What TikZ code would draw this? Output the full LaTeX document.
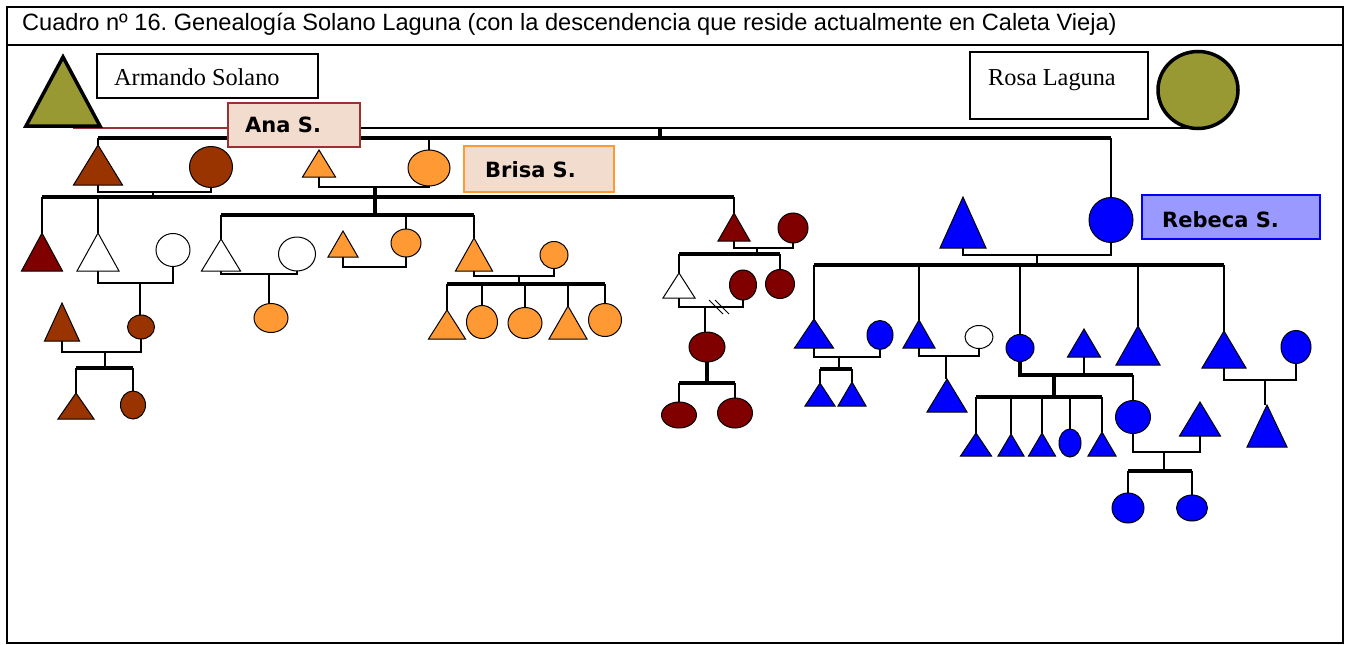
\documentclass[tikz,border=0pt]{standalone}
\usepackage{fontspec}
\setmainfont{Liberation Sans}
\newfontfamily\serifname{Liberation Serif}
\newfontfamily\rotulofam{DejaVu Sans}
\newcommand\titulofont{\fontsize{23.6}{27}\selectfont}
\newcommand\nombrefont{\serifname\fontsize{24.3}{28}\selectfont}
\newcommand\rotulofont{\rotulofam\bfseries\fontsize{21}{24}\selectfont}
\usetikzlibrary{shapes.geometric,backgrounds}
\frenchspacing

\definecolor{oliva}{HTML}{999933}
\definecolor{cafe}{HTML}{993300}
\definecolor{granate}{HTML}{800000}
\definecolor{naranja}{HTML}{FF9933}
\definecolor{azul}{HTML}{0000FF}
\definecolor{rosado}{HTML}{F2DCCD}
\definecolor{lila}{HTML}{9999FF}
\definecolor{rojizo}{HTML}{993333}

\tikzset{
  sz/.style 2 args={minimum width=#1pt,minimum height=#2pt},
  varon/.style={isosceles triangle,isosceles triangle stretches,shape border rotate=90,
    draw=black,line width=1pt,inner sep=0pt,outer sep=0pt,anchor=south,fill=#1},
  mujer/.style={ellipse,draw=black,line width=1pt,inner sep=0pt,outer sep=0pt,fill=#1},
  pareja/.style={line width=1.8pt},
  hijos/.style={line width=3.2pt},
  caja/.style={draw=black,line width=1.5pt,inner sep=0pt,anchor=north west},
  etiqueta/.style={caja,fill=rosado},
  nombre/.style={anchor=base west,inner sep=0pt,font=\nombrefont},
  rotulo/.style={anchor=base west,inner sep=0pt,font=\rotulofont},
}

\begin{document}
\begin{tikzpicture}[x=1pt,y=-1pt,line cap=rect,line join=miter]
  \useasboundingbox (0,0) rectangle (1347,645);
  % marco y titulo
  \draw[line width=1.5pt] (7,7) rectangle (1343,643);
  \draw[line width=2.5pt] (7,45) -- (1343,45);
  \node[anchor=base west,inner sep=0pt,font=\titulofont] (titulo) at (22,30)
    {Cuadro nº 16. Genealogía Solano Laguna (con la descendencia que reside actualmente en Caleta Vieja)};

  % fundadores
  \node[varon=oliva,line width=3.5pt,sz={74}{69}] (armando) at (63,126) {};
  \node[mujer=oliva,line width=3.5pt,sz={80}{77}] (rosa) at (1198,90) {};
  \node[caja,sz={221}{44}] (cajaArmando) at (96,53) {};
  \node[nombre] (txtArmando) at (114,85) {Armando Solano};
  \node[caja,sz={178}{67}] (cajaRosa) at (969,51) {};
  \node[nombre] (txtRosa) at (988,85) {Rosa Laguna};

  % hijos de Armando y Rosa
  \node[varon=cafe,sz={49}{40}] (hijo) at (98,185) {};
  \node[mujer=cafe,sz={43}{41}] (nuera) at (211,167) {};
  \node[varon=naranja,sz={33}{27}] (yernoB) at (319,177) {};
  \node[mujer=naranja,sz={42}{36}] (brisa) at (429,168) {};
  \node[varon=azul,sz={46}{51}] (yernoR) at (963,248) {};
  \node[mujer=azul,sz={44}{45}] (rebeca) at (1111,220) {};

  % rama cafe / granate
  \node[varon=granate,sz={41}{38}] (a1) at (42,271) {};
  \node[varon=white,sz={42}{38}] (a2) at (98,271) {};
  \node[mujer=white,sz={34}{33}] (a2w) at (173,250) {};
  \node[mujer=cafe,sz={27}{24}] (a2c) at (141,327) {};
  \node[varon=cafe,sz={35}{38}] (a2e) at (62,341) {};
  \node[varon=cafe,sz={36}{26}] (a2n1) at (76,419) {};
  \node[mujer=cafe,sz={25}{28}] (a2n2) at (133,405) {};
  \node[varon=granate,sz={32}{28}] (a3) at (734,241) {};
  \node[mujer=granate,sz={30}{30}] (a3w) at (793,228) {};
  \node[varon=white,sz={32}{25}] (a3h1) at (679,298) {};
  \node[mujer=granate,sz={27}{30}] (a3ex) at (743,285) {};
  \node[mujer=granate,sz={29}{29}] (a3h2) at (780,284) {};
  \node[mujer=granate,sz={36}{30}] (a3n) at (707,347) {};
  \node[mujer=granate,sz={35}{26}] (a3b1) at (679,415) {};
  \node[mujer=granate,sz={35}{30}] (a3b2) at (735,413) {};

  % rama naranja
  \node[varon=white,sz={39}{32}] (b1) at (221,271) {};
  \node[mujer=white,sz={37}{34}] (b1w) at (297,254) {};
  \node[mujer=naranja,sz={34}{29}] (b1c) at (271,318) {};
  \node[varon=naranja,sz={30}{26}] (b2e) at (343,257) {};
  \node[mujer=naranja,sz={30}{28}] (b2) at (406,243) {};
  \node[varon=naranja,sz={37}{33}] (b3) at (474,271) {};
  \node[mujer=naranja,sz={28}{27}] (b3w) at (554,255) {};
  \node[varon=naranja,sz={37}{29}] (b3n1) at (447,339) {};
  \node[mujer=naranja,sz={31}{33}] (b3n2) at (482,322) {};
  \node[mujer=naranja,sz={34}{31}] (b3n3) at (525,323) {};
  \node[varon=naranja,sz={38}{33}] (b3n4) at (568,339) {};
  \node[mujer=naranja,sz={33}{33}] (b3n5) at (605,320) {};

  % rama azul
  \node[varon=azul,sz={39}{29}] (r1) at (814,348) {};
  \node[mujer=azul,sz={26}{29}] (r1w) at (880,335) {};
  \node[varon=azul,sz={30}{23}] (r1n1) at (820,406) {};
  \node[varon=azul,sz={28}{24}] (r1n2) at (852,406) {};
  \node[varon=azul,sz={32}{28}] (r2) at (919,348) {};
  \node[mujer=white,sz={28}{23}] (r2w) at (979,337) {};
  \node[varon=azul,sz={40}{33}] (r2n) at (947,412) {};
  \node[mujer=azul,sz={28}{27}] (r3) at (1020,348) {};
  \node[varon=azul,sz={33}{28}] (r3e) at (1084,357) {};
  \node[varon=azul,sz={31}{23}] (r3n1) at (976,456) {};
  \node[varon=azul,sz={26}{22}] (r3n2) at (1011,456) {};
  \node[varon=azul,sz={27}{23}] (r3n3) at (1042,456) {};
  \node[mujer=azul,sz={22}{28}] (r3n4) at (1070,443) {};
  \node[varon=azul,sz={28}{24}] (r3n5) at (1102,456) {};
  \node[mujer=azul,sz={35}{33}] (r3x) at (1133,417) {};
  \node[varon=azul,sz={41}{34}] (r3xe) at (1200,436) {};
  \node[mujer=azul,sz={32}{30}] (r3xn1) at (1128,508) {};
  \node[mujer=azul,sz={31}{26}] (r3xn2) at (1192,508) {};
  \node[varon=azul,sz={44}{39}] (r4) at (1138,365) {};
  \node[varon=azul,sz={44}{37}] (r5) at (1224,368) {};
  \node[mujer=azul,sz={30}{33}] (r5w) at (1296,347) {};
  \node[varon=azul,sz={40}{42}] (r5n) at (1267,447) {};

  % rotulos
  \node[etiqueta,draw=rojizo,sz={132}{44}] (cajaAna) at (227,102) {};
  \node[rotulo] (txtAna) at (245,132) {Ana S.};
  \node[etiqueta,draw=naranja,sz={150}{46}] (cajaBrisa) at (463,145) {};
  \node[rotulo] (txtBrisa) at (485,177) {Brisa S.};
  \node[caja,fill=lila,draw=azul,sz={178}{44}] (cajaRebeca) at (1141,194) {};
  \node[rotulo] (txtRebeca) at (1162,227) {Rebeca S.};

  \begin{scope}[on background layer]
    % Armando y Rosa
    \coordinate (lazoI) at (73,128);
    \coordinate (mAR) at (660,129);
    \coordinate (hAR) at (660,138);
    \draw[pareja] (lazoI) -- (rosa.south |- lazoI);
    \draw[pareja,rojizo] (lazoI) -- (cajaAna.west |- lazoI);
    \draw[line width=4pt] (mAR) -- (hAR);
    \draw[line width=4pt] (hijo.north |- hAR) -- (rebeca.north |- hAR);
    \foreach \k in {hijo,brisa,rebeca} \draw[pareja] (\k.north |- hAR) -- (\k.north);

    % hijo y nuera
    \coordinate (m1) at (153,192);
    \coordinate (h1) at (153,197);
    \draw[pareja] (hijo.south) |- (m1) -| (nuera.south);
    \draw[pareja] (m1) -- (h1);
    \draw[hijos] (a1.north |- h1) -- (a3.north |- h1);
    \foreach \k in {a1,a2,a3} \draw[pareja] (\k.north |- h1) -- (\k.north);

    % Brisa
    \coordinate (m2) at (375,187);
    \coordinate (h2) at (375,215);
    \draw[pareja] (yernoB.south) |- (m2) -| (brisa.south);
    \draw[hijos] (m2) -- (h2);
    \draw[hijos] (b1.north |- h2) -- (b3.north |- h2);
    \foreach \k in {b1,b2,b3} \draw[pareja] (\k.north |- h2) -- (\k.north);

    % rama cafe
    \coordinate (m3) at (140,283);
    \draw[pareja] (a2.south) |- (m3) -| (a2w.south);
    \draw[pareja] (m3) -- (m3 |- a2c.north);
    \coordinate (m4) at (105,352);
    \coordinate (h4) at (105,368);
    \draw[pareja] (a2e.south) |- (m4) -| (a2c.south);
    \draw[pareja] (m4) -- (h4);
    \draw[hijos] (a2n1.north |- h4) -- (a2n2.north |- h4);
    \foreach \k in {a2n1,a2n2} \draw[pareja] (\k.north |- h4) -- (\k.north);

    % rama granate
    \coordinate (m5) at (757,248);
    \coordinate (h5) at (757,254);
    \draw[pareja] (a3.south) |- (m5) -| (a3w.south);
    \draw[pareja] (m5) -- (h5);
    \draw[hijos] (a3h1.north |- h5) -- (a3h2.north |- h5);
    \foreach \k in {a3h1,a3h2} \draw[pareja] (\k.north |- h5) -- (\k.north);
    \coordinate (m6) at (705,307);
    \coordinate (corte) at (719,307);
    \draw[pareja] (a3h1.south) |- (m6) -| (a3ex.south);
    \draw[pareja] (m6) -- (m6 |- a3n.north);
    \foreach \d in {-3,3} \draw[line width=1pt] ([xshift=\d pt]corte) ++(-7,-7) -- ++(14,14);
    \coordinate (h7) at (707,383);
    \draw[hijos] (a3n.south) -- (a3n.south |- h7);
    \draw[hijos] (a3b1.north |- h7) -- (a3b2.north |- h7);
    \foreach \k in {a3b1,a3b2} \draw[pareja] (\k.north |- h7) -- (\k.north);

    % rama naranja
    \coordinate (m8) at (269,274);
    \draw[pareja] (b1.south) |- (m8) -| (b1w.south);
    \draw[pareja] (m8) -- (m8 |- b1c.north);
    \draw[pareja] (b2e.south) -- ++(0,10) -| (b2.south);
    \coordinate (m9) at (519,276);
    \coordinate (h9) at (519,284);
    \draw[pareja] (b3.south) |- (m9) -| (b3w.south);
    \draw[pareja] (m9) -- (h9);
    \draw[hijos] (b3n1.north |- h9) -- (b3n5.north |- h9);
    \foreach \k in {b3n1,b3n2,b3n3,b3n4,b3n5} \draw[pareja] (\k.north |- h9) -- (\k.north);

    % Rebeca
    \coordinate (m10) at (1037,255);
    \coordinate (h10) at (1037,265);
    \draw[pareja] (yernoR.south) |- (m10) -| (rebeca.south);
    \draw[pareja] (m10) -- (h10);
    \draw[hijos] (r1.north |- h10) -- (r5.north |- h10);
    \foreach \k in {r1,r2,r3,r4,r5} \draw[pareja] (\k.north |- h10) -- (\k.north);

    % rama azul
    \coordinate (m11) at (839,357);
    \coordinate (h11) at (839,369);
    \draw[pareja] (r1.south) |- (m11) -| (r1w.south);
    \draw[pareja] (m11) -- (h11);
    \draw[hijos] (r1n1.north |- h11) -- (r1n2.north |- h11);
    \foreach \k in {r1n1,r1n2} \draw[pareja] (\k.north |- h11) -- (\k.north);
    \coordinate (m12) at (946,356);
    \draw[pareja] (r2.south) |- (m12) -| (r2w.south);
    \draw[pareja] (m12) -- (m12 |- r2n.north);
    \coordinate (m13) at (1054,375);
    \coordinate (h13) at (1054,397);
    \draw[hijos] (r3.south) |- (m13) -- (r3x.north |- m13);
    \draw[pareja] (r3e.south) -- (r3e.south |- m13);
    \draw[pareja] (r3x.north |- m13) -- (r3x.north);
    \draw[hijos] (m13) -- (h13);
    \draw[hijos] (r3n1.north |- h13) -- (r3n5.north |- h13);
    \foreach \k in {r3n1,r3n2,r3n3,r3n4,r3n5} \draw[pareja] (\k.north |- h13) -- (\k.north);
    \coordinate (m14) at (1164,452);
    \coordinate (h14) at (1164,471);
    \draw[pareja] (r3x.south) |- (m14) -| (r3xe.south);
    \draw[pareja] (m14) -- (h14);
    \draw[hijos] (r3xn1.north |- h14) -- (r3xn2.north |- h14);
    \foreach \k in {r3xn1,r3xn2} \draw[pareja] (\k.north |- h14) -- (\k.north);
    \coordinate (m15) at (1265,380);
    \draw[pareja] (r5.south) |- (m15) -| (r5w.south);
    \draw[pareja] (m15) -- (m15 |- r5n.north);
  \end{scope}
\end{tikzpicture}
\end{document}
